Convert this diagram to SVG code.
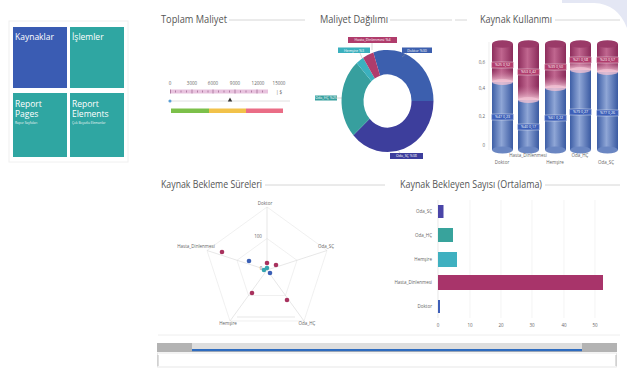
<svg xmlns="http://www.w3.org/2000/svg" width="627" height="374" viewBox="0 0 627 374">
<defs>
<style>
text{font-family:"Open Sans","Liberation Sans",sans-serif}
.title{font-size:11px;fill:#555}
.tl{stroke:#ccc;stroke-width:0.8}
.tile{font-size:8.5px;fill:#fff}
.tsub{font-size:3.2px;fill:#e8f4f4}
.sm{font-size:4.5px;fill:#666}
.lb{font-size:3.6px;fill:#fff}
.grid{stroke:#e6e6e6;stroke-width:0.6;fill:none}
.dm{fill:#a8325e}
.db{fill:#3a5fb5}
.dt{fill:#35a5b0}
</style>
<linearGradient id="gPink" x1="0" x2="1" y1="0" y2="0">
<stop offset="0" stop-color="#8d2d5c"/><stop offset="0.45" stop-color="#c0668f"/><stop offset="1" stop-color="#8a2b5a"/>
</linearGradient>
<linearGradient id="gBlue" x1="0" x2="1" y1="0" y2="0">
<stop offset="0" stop-color="#3d5ea6"/><stop offset="0.45" stop-color="#8fa6d6"/><stop offset="1" stop-color="#3a5aa2"/>
</linearGradient>
<linearGradient id="gFade" x1="0" x2="0" y1="0" y2="1">
<stop offset="0" stop-color="#c77a9c" stop-opacity="0"/><stop offset="1" stop-color="#f3c6d6"/>
</linearGradient>
</defs>
<rect width="627" height="374" fill="#fff"/>
<path d="M562 0 L627 0 L627 28 Q618 4 594 3 L562 3 Z" fill="#e4e7f4"/>

<!-- tiles -->
<rect x="9" y="21" width="119" height="141" fill="none" stroke="#f0f0f0" stroke-width="1"/>
<g id="tile-kaynaklar"><rect x="13" y="27" width="54" height="61" fill="#3a5cb3"/><text class="tile" x="15" y="40">Kaynaklar</text></g>
<g id="tile-islemler"><rect x="70" y="27" width="54" height="61" fill="#2fa6a2"/><text class="tile" x="72" y="40">İşlemler</text></g>
<g id="tile-pages"><rect x="13" y="93" width="54" height="64" fill="#2fa6a2"/><text class="tile" x="15" y="107">Report</text><text class="tile" x="15" y="117">Pages</text><text class="tsub" x="15" y="123.5">Rapor Sayfaları</text></g>
<g id="tile-elements"><rect x="70" y="93" width="54" height="64" fill="#2fa6a2"/><text class="tile" x="72" y="107">Report</text><text class="tile" x="72" y="117">Elements</text><text class="tsub" x="72" y="123.5">Çok Boyutlu Elemanlar</text></g>

<!-- titles -->
<g id="titles">
<text class="title" x="161" y="23" textLength="66" lengthAdjust="spacingAndGlyphs">Toplam Maliyet</text>
<line class="tl" x1="229" y1="20" x2="305" y2="20"/>
<text class="title" x="320" y="23" textLength="68" lengthAdjust="spacingAndGlyphs">Maliyet Dağılımı</text>
<line class="tl" x1="390" y1="20" x2="452" y2="20"/>
<line class="tl" x1="455" y1="20" x2="467" y2="20"/>
<text class="title" x="480" y="23" textLength="72" lengthAdjust="spacingAndGlyphs">Kaynak Kullanımı</text>
<line class="tl" x1="555" y1="20" x2="620" y2="20"/>
<text class="title" x="161" y="188" textLength="101" lengthAdjust="spacingAndGlyphs">Kaynak Bekleme Süreleri</text>
<line class="tl" x1="265" y1="185" x2="385" y2="185"/>
<text class="title" x="400" y="188" textLength="142" lengthAdjust="spacingAndGlyphs">Kaynak Bekleyen Sayısı (Ortalama)</text>
<line class="tl" x1="545" y1="185" x2="620" y2="185"/>
</g>

<!-- gauge -->
<g id="gauge">
<g class="sm" text-anchor="middle">
<text x="170" y="85">0</text><text x="192" y="85">3000</text><text x="213" y="85">6000</text><text x="235" y="85">9000</text><text x="258" y="85">12000</text><text x="279" y="85">15000</text>
<text x="279" y="94">| $</text>
</g>
<rect x="170" y="89.5" width="98" height="4" fill="#e8c2de"/>
<g stroke="#7a3a6a" stroke-width="0.5">
<line x1="170.5" y1="89.5" x2="170.5" y2="93.5"/><line x1="192" y1="89.5" x2="192" y2="93.5"/><line x1="213" y1="89.5" x2="213" y2="93.5"/><line x1="235" y1="89.5" x2="235" y2="93.5"/><line x1="257" y1="89.5" x2="257" y2="93.5"/>
<line x1="175.5" y1="90.5" x2="175.5" y2="92.5"/><line x1="181" y1="90.5" x2="181" y2="92.5"/><line x1="186.5" y1="90.5" x2="186.5" y2="92.5"/><line x1="197.5" y1="90.5" x2="197.5" y2="92.5"/><line x1="202.5" y1="90.5" x2="202.5" y2="92.5"/><line x1="208" y1="90.5" x2="208" y2="92.5"/><line x1="218.5" y1="90.5" x2="218.5" y2="92.5"/><line x1="224" y1="90.5" x2="224" y2="92.5"/><line x1="229.5" y1="90.5" x2="229.5" y2="92.5"/><line x1="240.5" y1="90.5" x2="240.5" y2="92.5"/><line x1="246" y1="90.5" x2="246" y2="92.5"/><line x1="251.5" y1="90.5" x2="251.5" y2="92.5"/><line x1="262.5" y1="90.5" x2="262.5" y2="92.5"/>
</g>
<line x1="168" y1="101" x2="290" y2="101" stroke="#d8d8d8" stroke-width="0.8"/>
<circle cx="170" cy="101" r="1.5" fill="#5aa0d8"/>
<path d="M230 97.5 L232.2 101.5 L227.8 101.5 Z" fill="#333"/>
<rect x="171" y="108.5" width="38" height="4.5" fill="#7cc04a"/>
<rect x="209" y="108.5" width="37" height="4.5" fill="#f2c24a"/>
<rect x="246" y="108.5" width="37" height="4.5" fill="#ea6d86"/>
</g>

<!-- donut -->
<g id="donut">
<g transform="translate(387.5,101) scale(1,1.11)">
<path d="M-14.21 -43.75 A46 46 0 0 1 46 0 L24 0 A24 24 0 0 0 -7.42 -22.83 Z" fill="#3c5fae"/>
<path d="M46 0 A46 46 0 0 1 -34.18 30.78 L-17.83 16.06 A24 24 0 0 0 24 0 Z" fill="#3d3e9c"/>
<path d="M-34.18 30.78 A46 46 0 0 1 -30.78 -34.18 L-16.06 -17.83 A24 24 0 0 0 -17.83 16.06 Z" fill="#379f9e"/>
<path d="M-30.78 -34.18 A46 46 0 0 1 -24.38 -39.01 L-12.72 -20.35 A24 24 0 0 0 -16.06 -17.83 Z" fill="#3bb0be"/>
<path d="M-24.38 -39.01 A46 46 0 0 1 -14.21 -43.75 L-7.42 -22.83 A24 24 0 0 0 -12.72 -20.35 Z" fill="#b03c6c"/>
</g>
<g stroke="#999" stroke-width="0.4">
<line x1="372" y1="43" x2="372" y2="50"/><line x1="360" y1="53" x2="362" y2="58"/><line x1="407" y1="53" x2="402" y2="57"/><line x1="337" y1="98" x2="342" y2="98"/><line x1="400" y1="153" x2="398" y2="150"/>
</g>
<rect x="348" y="37" width="49" height="6" fill="#b03c6c"/><text class="lb" x="372.5" y="41.3" text-anchor="middle">Hasta_Dinlenmesi %4</text>
<rect x="338" y="47.5" width="32" height="5.5" fill="#3bb0be"/><text class="lb" x="354" y="51.5" text-anchor="middle">Hemşire %3</text>
<rect x="402" y="47.5" width="30" height="5.5" fill="#3c5fae"/><text class="lb" x="417" y="51.5" text-anchor="middle">Doktor %30</text>
<rect x="315" y="95.5" width="22" height="5" fill="#379f9e"/><text class="lb" x="326" y="99.2" text-anchor="middle">Oda_HÇ %25</text>
<rect x="390" y="153" width="33" height="6" fill="#3d3e9c"/><text class="lb" x="406.5" y="157.3" text-anchor="middle">Oda_SÇ %38</text>
</g>

<!-- cylinders -->
<g id="cylinders">
<g class="sm" text-anchor="end">
<text x="485" y="64">0,6</text><text x="485" y="90">0,4</text><text x="485" y="118">0,2</text><text x="485" y="147">0</text>
</g>
<line x1="489" y1="42" x2="489" y2="150" stroke="#e2e2e2" stroke-width="0.6"/>
<g id="cyl1">
<rect x="492" y="44" width="21" height="38" fill="url(#gPink)"/><rect x="492" y="70" width="21" height="12" fill="url(#gFade)"/>
<rect x="492" y="82" width="21" height="68" fill="url(#gBlue)"/><ellipse cx="502.5" cy="82" rx="10.5" ry="3" fill="#f0c0d2" opacity="0.8"/>
<ellipse cx="502.5" cy="150" rx="10.5" ry="3.5" fill="#6a86c2"/><ellipse cx="502.5" cy="44" rx="10.5" ry="3.8" fill="#9a3a68"/>
<rect x="491.5" y="62" width="22" height="6" fill="#b03c6c" stroke="#fff" stroke-width="0.4"/><text class="lb" x="502.5" y="66.3" text-anchor="middle">%25 0,52</text>
<rect x="491.5" y="114" width="22" height="6" fill="#3c5fb8" stroke="#fff" stroke-width="0.4"/><text class="lb" x="502.5" y="118.3" text-anchor="middle">%47 0,23</text>
</g>
<g id="cyl2">
<rect x="518" y="44" width="21" height="56" fill="url(#gPink)"/><rect x="518" y="86" width="21" height="14" fill="url(#gFade)"/>
<rect x="518" y="100" width="21" height="50" fill="url(#gBlue)"/><ellipse cx="528.5" cy="100" rx="10.5" ry="3" fill="#f0c0d2" opacity="0.8"/>
<ellipse cx="528.5" cy="150" rx="10.5" ry="3.5" fill="#6a86c2"/><ellipse cx="528.5" cy="44" rx="10.5" ry="3.8" fill="#9a3a68"/>
<rect x="517.5" y="69" width="22" height="6" fill="#b03c6c" stroke="#fff" stroke-width="0.4"/><text class="lb" x="528.5" y="73.3" text-anchor="middle">%53 0,42</text>
<rect x="517.5" y="124" width="22" height="6" fill="#3c5fb8" stroke="#fff" stroke-width="0.4"/><text class="lb" x="528.5" y="128.3" text-anchor="middle">%40 0,17</text>
</g>
<g id="cyl3">
<rect x="545" y="44" width="21" height="44" fill="url(#gPink)"/><rect x="545" y="76" width="21" height="12" fill="url(#gFade)"/>
<rect x="545" y="88" width="21" height="62" fill="url(#gBlue)"/><ellipse cx="555.5" cy="88" rx="10.5" ry="3" fill="#f0c0d2" opacity="0.8"/>
<ellipse cx="555.5" cy="150" rx="10.5" ry="3.5" fill="#6a86c2"/><ellipse cx="555.5" cy="44" rx="10.5" ry="3.8" fill="#9a3a68"/>
<rect x="544.5" y="64" width="22" height="6" fill="#b03c6c" stroke="#fff" stroke-width="0.4"/><text class="lb" x="555.5" y="68.3" text-anchor="middle">%39 0,50</text>
<rect x="544.5" y="115" width="22" height="6" fill="#3c5fb8" stroke="#fff" stroke-width="0.4"/><text class="lb" x="555.5" y="119.3" text-anchor="middle">%61 0,22</text>
</g>
<g id="cyl4">
<rect x="570" y="44" width="21" height="26" fill="url(#gPink)"/><rect x="570" y="60" width="21" height="10" fill="url(#gFade)"/>
<rect x="570" y="70" width="21" height="80" fill="url(#gBlue)"/><ellipse cx="580.5" cy="70" rx="10.5" ry="3" fill="#f0c0d2" opacity="0.8"/>
<ellipse cx="580.5" cy="150" rx="10.5" ry="3.5" fill="#6a86c2"/><ellipse cx="580.5" cy="44" rx="10.5" ry="3.8" fill="#9a3a68"/>
<rect x="569.5" y="57" width="22" height="6" fill="#b03c6c" stroke="#fff" stroke-width="0.4"/><text class="lb" x="580.5" y="61.3" text-anchor="middle">%21 0,58</text>
<rect x="569.5" y="109" width="22" height="6" fill="#3c5fb8" stroke="#fff" stroke-width="0.4"/><text class="lb" x="580.5" y="113.3" text-anchor="middle">%79 0,27</text>
</g>
<g id="cyl5">
<rect x="597" y="44" width="21" height="28" fill="url(#gPink)"/><rect x="597" y="62" width="21" height="10" fill="url(#gFade)"/>
<rect x="597" y="72" width="21" height="78" fill="url(#gBlue)"/><ellipse cx="607.5" cy="72" rx="10.5" ry="3" fill="#f0c0d2" opacity="0.8"/>
<ellipse cx="607.5" cy="150" rx="10.5" ry="3.5" fill="#6a86c2"/><ellipse cx="607.5" cy="44" rx="10.5" ry="3.8" fill="#9a3a68"/>
<rect x="596.5" y="57" width="22" height="6" fill="#b03c6c" stroke="#fff" stroke-width="0.4"/><text class="lb" x="607.5" y="61.3" text-anchor="middle">%23 0,57</text>
<rect x="596.5" y="110" width="22" height="6" fill="#3c5fb8" stroke="#fff" stroke-width="0.4"/><text class="lb" x="607.5" y="114.3" text-anchor="middle">%77 0,26</text>
</g>
<g class="sm" text-anchor="middle">
<text x="502" y="164">Doktor</text><text x="528" y="156.5">Hasta_Dinlenmesi</text><text x="555" y="164">Hemşire</text><text x="580" y="156.5">Oda_HÇ</text><text x="606" y="164">Oda_SÇ</text>
</g>
</g>

<!-- radar -->
<g id="radar">
<path class="grid" d="M267 207 L327 250.5 L304 321 L230 321 L207 250.5 Z"/>
<path class="grid" d="M267 238.5 L297 260.3 L285.5 295.5 L248.5 295.5 L237 260.3 Z"/>
<g stroke="#d6d6d6" stroke-width="0.6">
<line x1="267" y1="270" x2="267" y2="207"/><line x1="267" y1="270" x2="327" y2="250.5"/><line x1="267" y1="270" x2="304" y2="321"/><line x1="267" y1="270" x2="230" y2="321"/><line x1="267" y1="270" x2="207" y2="250.5"/>
<line x1="237" y1="317" x2="295" y2="317"/>
</g>
<g class="sm">
<text x="265" y="205" text-anchor="middle">Doktor</text>
<text x="258" y="238" text-anchor="middle">100</text>
<text x="261" y="270" text-anchor="middle">0</text>
<text x="196" y="247.5" text-anchor="middle">Hasta_Dinlenmesi</text>
<text x="326" y="247.5" text-anchor="middle">Oda_SÇ</text>
<text x="228" y="325" text-anchor="middle">Hemşire</text>
<text x="307" y="325" text-anchor="middle">Oda_HÇ</text>
</g>
<circle class="dm" cx="222" cy="252" r="2.3"/>
<circle class="db" cx="249" cy="261" r="2.3"/>
<circle class="dm" cx="267" cy="263" r="2.3"/>
<circle class="dm" cx="276" cy="265" r="2.3"/>
<circle class="dt" cx="264" cy="270" r="2.3"/>
<circle class="dt" cx="267" cy="268" r="2.3"/>
<circle class="db" cx="270" cy="273" r="2.3"/>
<circle class="dm" cx="252" cy="293" r="2.3"/>
<circle class="dm" cx="287" cy="300" r="2.3"/>
</g>

<!-- bar chart -->
<g id="bars">
<g stroke="#ececec" stroke-width="0.6">
<line x1="470" y1="200" x2="470" y2="318"/><line x1="501" y1="200" x2="501" y2="318"/><line x1="532" y1="200" x2="532" y2="318"/><line x1="564" y1="200" x2="564" y2="318"/><line x1="595" y1="200" x2="595" y2="318"/>
</g>
<line x1="438" y1="200" x2="438" y2="318" stroke="#d8d8d8" stroke-width="0.6"/>
<g class="sm" text-anchor="middle">
<text x="438" y="327">0</text><text x="470" y="327">10</text><text x="501" y="327">20</text><text x="532" y="327">30</text><text x="564" y="327">40</text><text x="595" y="327">50</text>
</g>
<g class="sm" text-anchor="end">
<text x="432" y="213">Oda_SÇ</text><text x="432" y="237">Oda_HÇ</text><text x="432" y="261">Hemşire</text><text x="432" y="284">Hasta_Dinlenmesi</text><text x="432" y="308">Doktor</text>
</g>
<rect x="438" y="205" width="5.5" height="13" fill="#4a45a8"/>
<rect x="438" y="228" width="15" height="14" fill="#38a39c"/>
<rect x="438" y="252" width="19" height="15" fill="#3fb0c0"/>
<rect x="438" y="275" width="165" height="15" fill="#a8346a"/>
<rect x="438" y="300" width="2" height="13" fill="#3e5fb8"/>
</g>

<line x1="158" y1="335" x2="620" y2="335" stroke="#eeeeee" stroke-width="1"/>

<!-- scroll bar -->
<g id="scroll">
<rect x="157" y="343" width="460" height="9" fill="#b3b3b3"/>
<rect x="192" y="343" width="390" height="6" fill="#dedede"/>
<rect x="192" y="349" width="390" height="2.2" fill="#2e6cc0"/>
<rect x="157.5" y="353" width="459" height="14" fill="none" stroke="#e2e2e2" stroke-width="0.8"/>
<line x1="158" y1="355" x2="158" y2="366" stroke="#bbb" stroke-width="1"/>
<line x1="616" y1="355" x2="616" y2="366" stroke="#bbb" stroke-width="1"/>
</g>
</svg>
